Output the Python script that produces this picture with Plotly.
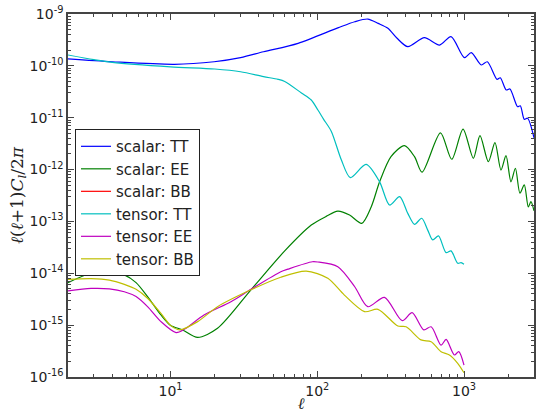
import plotly.graph_objects as go

# ---- data ----
l_sTT = [2, 4, 10.6, 19.8, 30, 43, 74, 138, 180, 221, 260, 303, 350, 414, 537, 681, 816,
         1006, 1121, 1312, 1442, 1679, 1767, 1941, 2057, 2318, 2420, 2576, 2712, 3000]
v_sTT = [1.36e-10, 1.2e-10, 1.07e-10, 1.2e-10, 1.44e-10, 1.87e-10, 2.72e-10, 5.4e-10, 7.1e-10,
         8.0e-10, 6.6e-10, 5.3e-10, 3.4e-10, 2.34e-10, 3.49e-10, 2.52e-10, 3.66e-10,
         1.44e-10, 1.8e-10, 1.04e-10, 1.2e-10, 5.5e-11, 5.9e-11, 3.43e-11, 3.58e-11,
         1.63e-11, 1.7e-11, 9.3e-12, 9.8e-12, 4.1e-12]

l_sEE = [2, 2.87, 3.83, 4.84, 5.82, 6.97, 8.6, 9.96, 12.1, 15.3, 20.9, 35.3, 60, 91, 115, 138,
         166, 201, 233, 266, 318, 393, 460, 518, 691, 825, 985, 1158, 1285, 1466, 1626, 1787,
         1933, 2090, 2240, 2406, 2576, 2743, 2858, 3000]
v_sEE = [6.6e-15, 1.0e-14, 1.07e-14, 9.3e-15, 6.6e-15, 3.55e-15, 1.57e-15, 1.0e-15, 8.07e-16,
         5.8e-16, 8.7e-16, 4.8e-15, 2.7e-14, 8.5e-14, 1.25e-13, 1.58e-13, 1.33e-13, 9.2e-14,
         1.9e-13, 5.8e-13, 1.77e-12, 2.9e-12, 1.77e-12, 8.9e-13, 5.1e-12, 1.58e-12, 6.05e-12,
         1.65e-12, 4.5e-12, 1.42e-12, 3.3e-12, 9.8e-13, 1.85e-12, 5.8e-13, 1.06e-12, 3.5e-13,
         5.05e-13, 1.9e-13, 2.4e-13, 1.6e-13]

l_sBB = []   # scalar BB is zero: nothing visible on a log axis
v_sBB = []

l_tTT = [2, 3, 4, 10, 20, 30, 43, 54, 60, 78, 91, 101, 110, 124.5, 146, 168, 215, 266, 311,
         364, 414, 460, 515, 566, 612, 670, 755, 816, 906, 955, 1000]
v_tTT = [1.62e-10, 1.32e-10, 1.17e-10, 9.6e-11, 8.7e-11, 7.7e-11, 6.2e-11, 5.5e-11, 5.0e-11,
         3.0e-11, 2.2e-11, 1.41e-11, 9.5e-12, 5.5e-12, 1.53e-12, 7.0e-13, 1.26e-12, 5.8e-13,
         2.07e-13, 3.0e-13, 1.43e-13, 8.8e-14, 1.15e-13, 6.8e-14, 4.4e-14, 5.25e-14, 2.5e-14,
         2.7e-14, 1.56e-14, 1.6e-14, 1.49e-14]

l_tEE = [2, 2.87, 3.83, 4.84, 5.82, 6.97, 8.6, 10.9, 12.4, 16.9, 25.8, 35.3, 56.4, 63, 92.5,
         101, 138, 180, 221, 287, 379, 443, 532, 597, 698, 755, 860, 921, 1000]
v_tEE = [4.56e-15, 5.1e-15, 5.0e-15, 4.4e-15, 3.55e-15, 2.27e-15, 1.17e-15, 7.2e-16, 8.3e-16,
         1.57e-15, 2.83e-15, 4.9e-15, 1.07e-14, 1.2e-14, 1.67e-14, 1.65e-14, 1.34e-14, 5.5e-15,
         2.27e-15, 3.44e-15, 1.22e-15, 1.74e-15, 8.1e-16, 9.3e-16, 4.1e-16, 5.3e-16, 2.66e-16,
         3.08e-16, 1.7e-16]

l_tBB = [2, 2.87, 3.83, 4.84, 5.82, 6.97, 8.6, 9.96, 11.5, 15.3, 20.9, 35.3, 56.4, 84, 118,
         153, 210, 259, 354, 403, 509, 597, 698, 795, 906, 1000]
v_tBB = [7.65e-15, 7.9e-15, 7.4e-15, 6.1e-15, 4.9e-15, 3.3e-15, 1.69e-15, 1.0e-15, 8.1e-16,
         1.17e-15, 2.27e-15, 4.8e-15, 8.4e-15, 1.1e-14, 8.0e-15, 3.8e-15, 1.82e-15, 2.02e-15,
         9.6e-16, 9.3e-16, 5.2e-16, 4.8e-16, 3.08e-16, 2.66e-16, 1.84e-16, 1.21e-16]

x_exps = [1, 2, 3]
y_exps = [-16, -15, -14, -13, -12, -11, -10, -9]

series = [
    ("scalar: TT", l_sTT, v_sTT, "#0000ff"),
    ("scalar: EE", l_sEE, v_sEE, "#008000"),
    ("scalar: BB", l_sBB, v_sBB, "#ff0000"),
    ("tensor: TT", l_tTT, v_tTT, "#00bfbf"),
    ("tensor: EE", l_tEE, v_tEE, "#bf00bf"),
    ("tensor: BB", l_tBB, v_tBB, "#bfbf00"),
]

fig = go.Figure()
for name, xs, ys, col in series:
    if not xs:
        xs, ys = [None], [None]
    fig.add_trace(go.Scatter(x=xs, y=ys, mode="lines", name=name,
                             line=dict(color=col, width=1.2, shape="spline", smoothing=0.8)))

x_minor = [m * 10 ** e for e in range(0, 4) for m in range(2, 10)]
y_minor = [m * 10.0 ** e for e in range(-16, -9) for m in range(2, 10)]

axis_common = dict(showgrid=False, zeroline=False, showline=True, linecolor="#444444",
                   linewidth=1.5, mirror="allticks", ticks="inside", ticklen=6,
                   tickcolor="#444444", tickwidth=1, tickmode="array",
                   tickfont=dict(family="DejaVu Sans", size=14, color="#222222"))

fig.update_xaxes(type="log", range=[0.30103, 3.4771], **axis_common,
                 tickvals=[10.0 ** e for e in x_exps],
                 ticktext=["10<sup>%d</sup>" % e for e in x_exps],
                 minor=dict(tickvals=x_minor, ticks="inside", ticklen=3, tickcolor="#444444",
                            showgrid=False),
                 title=dict(text="<i>ℓ</i>", font=dict(family="DejaVu Serif", size=16, color="#222222"),
                            standoff=0))
fig.update_yaxes(type="log", range=[-16, -9], **axis_common,
                 tickvals=[10.0 ** e for e in y_exps],
                 ticktext=["10<sup>%d</sup>" % e for e in y_exps],
                 minor=dict(tickvals=y_minor, ticks="inside", ticklen=3, tickcolor="#444444",
                            showgrid=False),
                 title=dict(text="<i>ℓ</i>(<i>ℓ</i>+1)<i>C<sub>l</sub></i>/2<i>π</i>",
                            font=dict(family="DejaVu Serif", size=17, color="#222222"),
                            standoff=2))

fig.update_layout(
    width=537, height=414,
    margin=dict(l=68, r=1, t=14, b=37),
    paper_bgcolor="white", plot_bgcolor="white",
    legend=dict(x=0.015, y=0.683, xanchor="left", yanchor="top",
                bgcolor="white", bordercolor="#222222", borderwidth=1,
                font=dict(family="DejaVu Sans", size=15, color="#222222"),
                tracegroupgap=0),
)

fig.write_html("out.html")
